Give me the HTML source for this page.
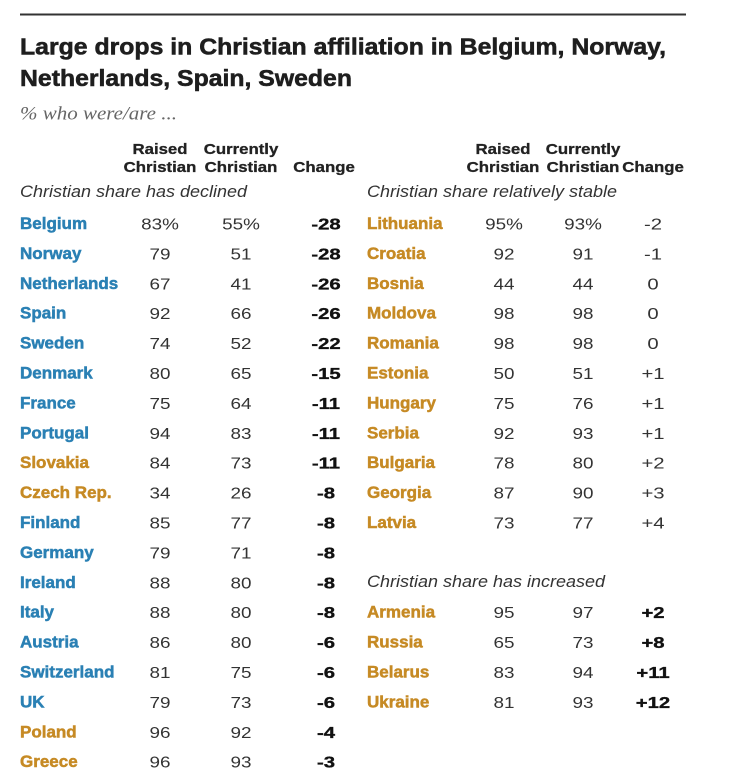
<!DOCTYPE html>
<html>
<head>
<meta charset="utf-8">
<style>
  html, body { margin:0; padding:0; background:#fff; }
  body { width:737px; height:781px; overflow:hidden; }
  svg { display:block; }
  text { font-family: "Liberation Sans", Arial, sans-serif; }
  .t { font-size:23px; font-weight:bold; fill:#1e1e1e; stroke:#1e1e1e; stroke-width:0.55px; }
  .sub { font-family:"Liberation Serif", serif; font-style:italic; font-size:19px; fill:#666; }
  .h { font-size:15px; font-weight:bold; fill:#222; stroke:#222; stroke-width:0.3px; }
  .l { font-size:17px; font-style:italic; fill:#333; }
  .nb { font-size:17px; font-weight:bold; fill:#2a80b4; stroke:#2a80b4; stroke-width:0.5px; }
  .no { font-size:17px; font-weight:bold; fill:#c68a24; stroke:#c68a24; stroke-width:0.5px; }
  .v { font-size:16px; fill:#333; }
  .c { font-size:16px; font-weight:bold; fill:#111; stroke:#111; stroke-width:0.35px; }
  .cn { font-size:16px; fill:#333; }
</style>
</head>
<body>
<svg width="737" height="781" viewBox="0 0 737 781" xmlns="http://www.w3.org/2000/svg">
  <line x1="20" y1="14.5" x2="686" y2="14.5" stroke="#333" stroke-width="2"/>
  <text class="t" x="20" y="54.5" textLength="646" lengthAdjust="spacingAndGlyphs">Large drops in Christian affiliation in Belgium, Norway,</text>
  <text class="t" x="20" y="86.2" textLength="332" lengthAdjust="spacingAndGlyphs">Netherlands, Spain, Sweden</text>
  <text class="sub" x="20" y="119.3" textLength="157" lengthAdjust="spacingAndGlyphs">% who were/are ...</text>

  <!-- Left headers -->
  <g transform="translate(160,154) scale(1.12,1)"><text class="h" text-anchor="middle">Raised</text></g>
  <g transform="translate(160,172) scale(1.12,1)"><text class="h" text-anchor="middle">Christian</text></g>
  <g transform="translate(241,154) scale(1.12,1)"><text class="h" text-anchor="middle">Currently</text></g>
  <g transform="translate(241,172) scale(1.12,1)"><text class="h" text-anchor="middle">Christian</text></g>
  <g transform="translate(324,172) scale(1.12,1)"><text class="h" text-anchor="middle">Change</text></g>

  <!-- Right headers -->
  <g transform="translate(503,154) scale(1.12,1)"><text class="h" text-anchor="middle">Raised</text></g>
  <g transform="translate(503,172) scale(1.12,1)"><text class="h" text-anchor="middle">Christian</text></g>
  <g transform="translate(583,154) scale(1.12,1)"><text class="h" text-anchor="middle">Currently</text></g>
  <g transform="translate(583,172) scale(1.12,1)"><text class="h" text-anchor="middle">Christian</text></g>
  <g transform="translate(653,172) scale(1.12,1)"><text class="h" text-anchor="middle">Change</text></g>

  <!-- Section labels -->
  <text class="l" x="20" y="197" textLength="227" lengthAdjust="spacingAndGlyphs">Christian share has declined</text>
  <text class="l" x="367" y="197" textLength="250" lengthAdjust="spacingAndGlyphs">Christian share relatively stable</text>
  <text class="l" x="367" y="587" textLength="238" lengthAdjust="spacingAndGlyphs">Christian share has increased</text>

  <!-- Left rows -->
  <g>
    <text class="nb" x="20" y="229">Belgium</text>
    <g transform="translate(160,229.5) scale(1.18,1)"><text class="v" text-anchor="middle">83%</text></g>
    <g transform="translate(241,229.5) scale(1.18,1)"><text class="v" text-anchor="middle">55%</text></g>
    <g transform="translate(326,229.5) scale(1.27,1)"><text class="c" text-anchor="middle">-28</text></g>

    <text class="nb" x="20" y="258.9">Norway</text>
    <g transform="translate(160,259.4) scale(1.18,1)"><text class="v" text-anchor="middle">79</text></g>
    <g transform="translate(241,259.4) scale(1.18,1)"><text class="v" text-anchor="middle">51</text></g>
    <g transform="translate(326,259.4) scale(1.27,1)"><text class="c" text-anchor="middle">-28</text></g>

    <text class="nb" x="20" y="288.8">Netherlands</text>
    <g transform="translate(160,289.3) scale(1.18,1)"><text class="v" text-anchor="middle">67</text></g>
    <g transform="translate(241,289.3) scale(1.18,1)"><text class="v" text-anchor="middle">41</text></g>
    <g transform="translate(326,289.3) scale(1.27,1)"><text class="c" text-anchor="middle">-26</text></g>

    <text class="nb" x="20" y="318.7">Spain</text>
    <g transform="translate(160,319.2) scale(1.18,1)"><text class="v" text-anchor="middle">92</text></g>
    <g transform="translate(241,319.2) scale(1.18,1)"><text class="v" text-anchor="middle">66</text></g>
    <g transform="translate(326,319.2) scale(1.27,1)"><text class="c" text-anchor="middle">-26</text></g>

    <text class="nb" x="20" y="348.6">Sweden</text>
    <g transform="translate(160,349.1) scale(1.18,1)"><text class="v" text-anchor="middle">74</text></g>
    <g transform="translate(241,349.1) scale(1.18,1)"><text class="v" text-anchor="middle">52</text></g>
    <g transform="translate(326,349.1) scale(1.27,1)"><text class="c" text-anchor="middle">-22</text></g>

    <text class="nb" x="20" y="378.5">Denmark</text>
    <g transform="translate(160,379) scale(1.18,1)"><text class="v" text-anchor="middle">80</text></g>
    <g transform="translate(241,379) scale(1.18,1)"><text class="v" text-anchor="middle">65</text></g>
    <g transform="translate(326,379) scale(1.27,1)"><text class="c" text-anchor="middle">-15</text></g>

    <text class="nb" x="20" y="408.4">France</text>
    <g transform="translate(160,408.9) scale(1.18,1)"><text class="v" text-anchor="middle">75</text></g>
    <g transform="translate(241,408.9) scale(1.18,1)"><text class="v" text-anchor="middle">64</text></g>
    <g transform="translate(326,408.9) scale(1.27,1)"><text class="c" text-anchor="middle">-11</text></g>

    <text class="nb" x="20" y="438.3">Portugal</text>
    <g transform="translate(160,438.8) scale(1.18,1)"><text class="v" text-anchor="middle">94</text></g>
    <g transform="translate(241,438.8) scale(1.18,1)"><text class="v" text-anchor="middle">83</text></g>
    <g transform="translate(326,438.8) scale(1.27,1)"><text class="c" text-anchor="middle">-11</text></g>

    <text class="no" x="20" y="468.2">Slovakia</text>
    <g transform="translate(160,468.7) scale(1.18,1)"><text class="v" text-anchor="middle">84</text></g>
    <g transform="translate(241,468.7) scale(1.18,1)"><text class="v" text-anchor="middle">73</text></g>
    <g transform="translate(326,468.7) scale(1.27,1)"><text class="c" text-anchor="middle">-11</text></g>

    <text class="no" x="20" y="498.1">Czech Rep.</text>
    <g transform="translate(160,498.6) scale(1.18,1)"><text class="v" text-anchor="middle">34</text></g>
    <g transform="translate(241,498.6) scale(1.18,1)"><text class="v" text-anchor="middle">26</text></g>
    <g transform="translate(326,498.6) scale(1.27,1)"><text class="c" text-anchor="middle">-8</text></g>

    <text class="nb" x="20" y="528">Finland</text>
    <g transform="translate(160,528.5) scale(1.18,1)"><text class="v" text-anchor="middle">85</text></g>
    <g transform="translate(241,528.5) scale(1.18,1)"><text class="v" text-anchor="middle">77</text></g>
    <g transform="translate(326,528.5) scale(1.27,1)"><text class="c" text-anchor="middle">-8</text></g>

    <text class="nb" x="20" y="557.9">Germany</text>
    <g transform="translate(160,558.4) scale(1.18,1)"><text class="v" text-anchor="middle">79</text></g>
    <g transform="translate(241,558.4) scale(1.18,1)"><text class="v" text-anchor="middle">71</text></g>
    <g transform="translate(326,558.4) scale(1.27,1)"><text class="c" text-anchor="middle">-8</text></g>

    <text class="nb" x="20" y="587.8">Ireland</text>
    <g transform="translate(160,588.3) scale(1.18,1)"><text class="v" text-anchor="middle">88</text></g>
    <g transform="translate(241,588.3) scale(1.18,1)"><text class="v" text-anchor="middle">80</text></g>
    <g transform="translate(326,588.3) scale(1.27,1)"><text class="c" text-anchor="middle">-8</text></g>

    <text class="nb" x="20" y="617.7">Italy</text>
    <g transform="translate(160,618.2) scale(1.18,1)"><text class="v" text-anchor="middle">88</text></g>
    <g transform="translate(241,618.2) scale(1.18,1)"><text class="v" text-anchor="middle">80</text></g>
    <g transform="translate(326,618.2) scale(1.27,1)"><text class="c" text-anchor="middle">-8</text></g>

    <text class="nb" x="20" y="647.6">Austria</text>
    <g transform="translate(160,648.1) scale(1.18,1)"><text class="v" text-anchor="middle">86</text></g>
    <g transform="translate(241,648.1) scale(1.18,1)"><text class="v" text-anchor="middle">80</text></g>
    <g transform="translate(326,648.1) scale(1.27,1)"><text class="c" text-anchor="middle">-6</text></g>

    <text class="nb" x="20" y="677.5">Switzerland</text>
    <g transform="translate(160,678) scale(1.18,1)"><text class="v" text-anchor="middle">81</text></g>
    <g transform="translate(241,678) scale(1.18,1)"><text class="v" text-anchor="middle">75</text></g>
    <g transform="translate(326,678) scale(1.27,1)"><text class="c" text-anchor="middle">-6</text></g>

    <text class="nb" x="20" y="707.4">UK</text>
    <g transform="translate(160,707.9) scale(1.18,1)"><text class="v" text-anchor="middle">79</text></g>
    <g transform="translate(241,707.9) scale(1.18,1)"><text class="v" text-anchor="middle">73</text></g>
    <g transform="translate(326,707.9) scale(1.27,1)"><text class="c" text-anchor="middle">-6</text></g>

    <text class="no" x="20" y="737.3">Poland</text>
    <g transform="translate(160,737.8) scale(1.18,1)"><text class="v" text-anchor="middle">96</text></g>
    <g transform="translate(241,737.8) scale(1.18,1)"><text class="v" text-anchor="middle">92</text></g>
    <g transform="translate(326,737.8) scale(1.27,1)"><text class="c" text-anchor="middle">-4</text></g>

    <text class="no" x="20" y="767.2">Greece</text>
    <g transform="translate(160,767.7) scale(1.18,1)"><text class="v" text-anchor="middle">96</text></g>
    <g transform="translate(241,767.7) scale(1.18,1)"><text class="v" text-anchor="middle">93</text></g>
    <g transform="translate(326,767.7) scale(1.27,1)"><text class="c" text-anchor="middle">-3</text></g>
  </g>

  <!-- Right rows -->
  <g>
    <text class="no" x="367" y="229">Lithuania</text>
    <g transform="translate(504,229.5) scale(1.18,1)"><text class="v" text-anchor="middle">95%</text></g>
    <g transform="translate(583,229.5) scale(1.18,1)"><text class="v" text-anchor="middle">93%</text></g>
    <g transform="translate(653,229.5) scale(1.27,1)"><text class="cn" text-anchor="middle">-2</text></g>

    <text class="no" x="367" y="258.9">Croatia</text>
    <g transform="translate(504,259.4) scale(1.18,1)"><text class="v" text-anchor="middle">92</text></g>
    <g transform="translate(583,259.4) scale(1.18,1)"><text class="v" text-anchor="middle">91</text></g>
    <g transform="translate(653,259.4) scale(1.27,1)"><text class="cn" text-anchor="middle">-1</text></g>

    <text class="no" x="367" y="288.8">Bosnia</text>
    <g transform="translate(504,289.3) scale(1.18,1)"><text class="v" text-anchor="middle">44</text></g>
    <g transform="translate(583,289.3) scale(1.18,1)"><text class="v" text-anchor="middle">44</text></g>
    <g transform="translate(653,289.3) scale(1.27,1)"><text class="cn" text-anchor="middle">0</text></g>

    <text class="no" x="367" y="318.7">Moldova</text>
    <g transform="translate(504,319.2) scale(1.18,1)"><text class="v" text-anchor="middle">98</text></g>
    <g transform="translate(583,319.2) scale(1.18,1)"><text class="v" text-anchor="middle">98</text></g>
    <g transform="translate(653,319.2) scale(1.27,1)"><text class="cn" text-anchor="middle">0</text></g>

    <text class="no" x="367" y="348.6">Romania</text>
    <g transform="translate(504,349.1) scale(1.18,1)"><text class="v" text-anchor="middle">98</text></g>
    <g transform="translate(583,349.1) scale(1.18,1)"><text class="v" text-anchor="middle">98</text></g>
    <g transform="translate(653,349.1) scale(1.27,1)"><text class="cn" text-anchor="middle">0</text></g>

    <text class="no" x="367" y="378.5">Estonia</text>
    <g transform="translate(504,379) scale(1.18,1)"><text class="v" text-anchor="middle">50</text></g>
    <g transform="translate(583,379) scale(1.18,1)"><text class="v" text-anchor="middle">51</text></g>
    <g transform="translate(653,379) scale(1.27,1)"><text class="cn" text-anchor="middle">+1</text></g>

    <text class="no" x="367" y="408.4">Hungary</text>
    <g transform="translate(504,408.9) scale(1.18,1)"><text class="v" text-anchor="middle">75</text></g>
    <g transform="translate(583,408.9) scale(1.18,1)"><text class="v" text-anchor="middle">76</text></g>
    <g transform="translate(653,408.9) scale(1.27,1)"><text class="cn" text-anchor="middle">+1</text></g>

    <text class="no" x="367" y="438.3">Serbia</text>
    <g transform="translate(504,438.8) scale(1.18,1)"><text class="v" text-anchor="middle">92</text></g>
    <g transform="translate(583,438.8) scale(1.18,1)"><text class="v" text-anchor="middle">93</text></g>
    <g transform="translate(653,438.8) scale(1.27,1)"><text class="cn" text-anchor="middle">+1</text></g>

    <text class="no" x="367" y="468.2">Bulgaria</text>
    <g transform="translate(504,468.7) scale(1.18,1)"><text class="v" text-anchor="middle">78</text></g>
    <g transform="translate(583,468.7) scale(1.18,1)"><text class="v" text-anchor="middle">80</text></g>
    <g transform="translate(653,468.7) scale(1.27,1)"><text class="cn" text-anchor="middle">+2</text></g>

    <text class="no" x="367" y="498.1">Georgia</text>
    <g transform="translate(504,498.6) scale(1.18,1)"><text class="v" text-anchor="middle">87</text></g>
    <g transform="translate(583,498.6) scale(1.18,1)"><text class="v" text-anchor="middle">90</text></g>
    <g transform="translate(653,498.6) scale(1.27,1)"><text class="cn" text-anchor="middle">+3</text></g>

    <text class="no" x="367" y="528">Latvia</text>
    <g transform="translate(504,528.5) scale(1.18,1)"><text class="v" text-anchor="middle">73</text></g>
    <g transform="translate(583,528.5) scale(1.18,1)"><text class="v" text-anchor="middle">77</text></g>
    <g transform="translate(653,528.5) scale(1.27,1)"><text class="cn" text-anchor="middle">+4</text></g>

    <text class="no" x="367" y="617.7">Armenia</text>
    <g transform="translate(504,618.2) scale(1.18,1)"><text class="v" text-anchor="middle">95</text></g>
    <g transform="translate(583,618.2) scale(1.18,1)"><text class="v" text-anchor="middle">97</text></g>
    <g transform="translate(653,618.2) scale(1.27,1)"><text class="c" text-anchor="middle">+2</text></g>

    <text class="no" x="367" y="647.6">Russia</text>
    <g transform="translate(504,648.1) scale(1.18,1)"><text class="v" text-anchor="middle">65</text></g>
    <g transform="translate(583,648.1) scale(1.18,1)"><text class="v" text-anchor="middle">73</text></g>
    <g transform="translate(653,648.1) scale(1.27,1)"><text class="c" text-anchor="middle">+8</text></g>

    <text class="no" x="367" y="677.5">Belarus</text>
    <g transform="translate(504,678) scale(1.18,1)"><text class="v" text-anchor="middle">83</text></g>
    <g transform="translate(583,678) scale(1.18,1)"><text class="v" text-anchor="middle">94</text></g>
    <g transform="translate(653,678) scale(1.27,1)"><text class="c" text-anchor="middle">+11</text></g>

    <text class="no" x="367" y="707.4">Ukraine</text>
    <g transform="translate(504,707.9) scale(1.18,1)"><text class="v" text-anchor="middle">81</text></g>
    <g transform="translate(583,707.9) scale(1.18,1)"><text class="v" text-anchor="middle">93</text></g>
    <g transform="translate(653,707.9) scale(1.27,1)"><text class="c" text-anchor="middle">+12</text></g>
  </g>
</svg>
</body>
</html>
